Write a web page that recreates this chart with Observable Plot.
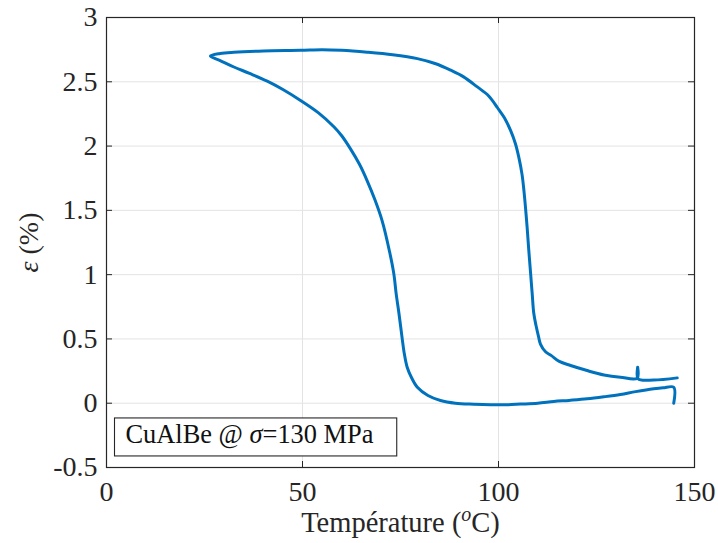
<!DOCTYPE html>
<html><head><meta charset="utf-8">
<script src="https://cdn.jsdelivr.net/npm/d3@7"></script>
<script src="https://cdn.jsdelivr.net/npm/@observablehq/plot@0.6"></script>
<style>
body{margin:0;background:#fff}
svg{font-family:"Liberation Serif",serif}
</style>
</head><body><div id="chart"></div>
<script>
// Temperature (°C) and strain (%) along the measured loop
const temperature = [
  144.7,144.7,142,139.6,135,131.1,126.9,122.6,118,114.1,
  110,105.6,102.2,98,93.7,89,85.2,82,79.3,77.8,
  76.7,76,75.4,74.6,73.9,73.3,72.2,70.3,68.5,66.5,
  64.5,62.2,60,58,54,49.5,45,41,36.5,32.5,
  29,26.5,
  29,32.5,40,49.5,55,60,66.5,73,79.3,84,
  87.8,91,94.6,97.5,99.7,101.5,103.1,104.3,105.2,106,
  106.5,107.3,107.7,108.2,108.6,109,109.6,110.2,110.7,112,
  113.5,115.5,118.4,122.6,126.9,131.1,135.4,135.5,135.6,139.6,
  145.6
];
const strain = [
  0.0,0.124,0.12,0.112,0.09,0.068,0.05,0.034,0.022,0.013,
  0.0,-0.007,-0.012,-0.012,-0.008,0.0,0.021,0.06,0.124,0.2,
  0.28,0.38,0.51,0.70,0.85,1.006,1.18,1.42,1.58,1.73,
  1.86,1.98,2.08,2.15,2.26,2.355,2.44,2.505,2.565,2.615,
  2.665,2.70,
  2.72,2.73,2.74,2.745,2.75,2.745,2.73,2.71,2.68,2.64,
  2.59,2.54,2.46,2.39,2.30,2.22,2.12,2.02,1.91,1.78,
  1.65,1.37,1.20,1.006,0.85,0.70,0.60,0.52,0.46,0.40,
  0.37,0.325,0.293,0.254,0.22,0.202,0.195,0.28,0.19,0.18,
  0.197
];
const xTicks = [0, 50, 100, 150];
const yTicks = [-0.5, 0, 0.5, 1, 1.5, 2, 2.5, 3];
const xTickLabels = ["0", "50", "100", "150"];
const yTickLabels = ["-0.5", "0", "0.5", "1", "1.5", "2", "2.5", "3"];
const annotation = "CuAlBe @ σ=130 MPa";
const xLabel = "Température (oC)";
const yLabel = "ε (%)";

const data = temperature.map((t, i) => ({t, e: strain[i]}));

const W = 718, H = 543, mL = 106, mR = 24, mT = 17, mB = 76;
const plotW = W - mL - mR, plotH = H - mT - mB;
const frameColor = "#262626", gridColor = "#e3e3e3", lineColor = "#0072BD";

const chart = Plot.plot({
  width: W, height: H,
  marginLeft: mL, marginRight: mR, marginTop: mT, marginBottom: mB,
  style: {fontFamily: "Liberation Serif, serif", background: "#fff", color: "#262626"},
  x: {domain: [0, 150]},
  y: {domain: [-0.5, 3]},
  marks: [
    Plot.gridX(xTicks, {stroke: gridColor, strokeOpacity: 1}),
    Plot.gridY(yTicks, {stroke: gridColor, strokeOpacity: 1}),
    Plot.line(data, {x: "t", y: "e", stroke: lineColor, strokeWidth: 3, strokeLinejoin: "round",
      curve: "catmull-rom"}),
    Plot.tickX(xTicks, {x: d => d, insetTop: plotH - 6, stroke: frameColor}),
    Plot.tickX(xTicks, {x: d => d, insetBottom: plotH - 6, stroke: frameColor}),
    Plot.tickY(yTicks, {y: d => d, insetRight: plotW - 6, stroke: frameColor}),
    Plot.tickY(yTicks, {y: d => d, insetLeft: plotW - 6, stroke: frameColor}),
    Plot.frame({stroke: frameColor, strokeWidth: 1.2}),
    Plot.axisX(xTicks, {tickSize: 0, tickPadding: 14, fontSize: 28, label: null,
      tickFormat: (d, i) => xTickLabels[i], fill: frameColor}),
    Plot.axisY(yTicks, {tickSize: 0, tickPadding: 9, fontSize: 28, label: null,
      tickFormat: (d, i) => yTickLabels[i], fill: frameColor}),
    Plot.text([annotation], {text: d => d, frameAnchor: "bottom-left", textAnchor: "start",
      lineAnchor: "middle", dx: 19, dy: -33, fontSize: 26.4, fill: "#111", className: "anno"}),
    Plot.text([xLabel], {text: d => d, frameAnchor: "bottom", textAnchor: "middle",
      lineAnchor: "middle", dy: 55, fontSize: 28.5, fill: frameColor, className: "xlab"}),
    Plot.text([yLabel], {text: d => d, frameAnchor: "left", textAnchor: "middle",
      lineAnchor: "middle", rotate: -90, dx: -77, dy: 0,
      fontSize: 28, fill: frameColor, className: "ylab"})
  ]
});
document.getElementById("chart").appendChild(chart);

// Rich text: italic sigma, superscript o, italic epsilon
function richText(sel, parts) {
  const t = d3.select(chart).select(sel).select("text");
  t.text(null);
  parts.forEach(p => {
    const ts = t.append("tspan").text(p.s);
    if (p.italic) ts.attr("font-style", "italic");
    if (p.sup) ts.attr("font-size", "70%").attr("baseline-shift", "super");
  });
  return t;
}
const annoText = richText(".anno", [
  {s: "CuAlBe @ "}, {s: "σ", italic: true}, {s: "=130 MPa"}
]);
richText(".xlab", [{s: "Température ("}, {s: "o", sup: true, italic: true}, {s: "C)"}]);
richText(".ylab", [{s: "ε", italic: true}, {s: " (%)"}]);

// Box around annotation (same local frame as the text)
const node = annoText.node();
const bb = node.getBBox();
d3.select(node.parentNode).insert("rect", "text")
  .attr("transform", node.getAttribute("transform"))
  .attr("x", bb.x - 11).attr("y", bb.y - 1)
  .attr("width", bb.width + 34).attr("height", bb.height + 8)
  .attr("fill", "#fff").attr("stroke", frameColor).attr("stroke-width", 1.1);
</script>
</body></html>
